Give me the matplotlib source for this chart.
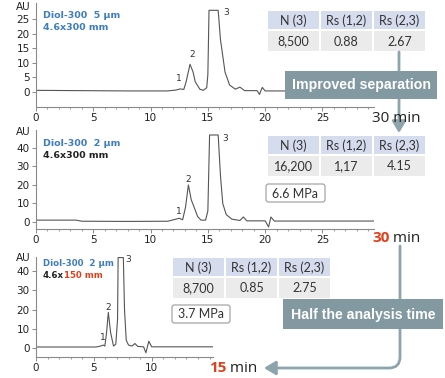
import matplotlib
matplotlib.use("Agg")
import matplotlib.pyplot as plt
from matplotlib.patches import Rectangle, FancyBboxPatch, FancyArrowPatch
from matplotlib.path import Path
from matplotlib.ticker import MultipleLocator

# ---------------- data ----------------
t1 = [0, 4, 8, 11.5, 12.2, 12.6, 12.9, 13.1, 13.44, 13.7, 13.9, 14.3, 14.6, 14.9, 15.0, 15.1, 15.9, 16.1,
      16.5, 16.9, 17.4, 17.8, 18.2, 19.3, 19.5, 19.75, 20.0, 21.8]
y1 = [0.6, 0.5, 0.4, 0.4, 0.7, 1.1, 0.9, 3.5, 9.5, 7.0, 3.5, 1.0, 0.6, 1.5, 6.0, 28, 28, 18,
      6.8, 2.4, 1.0, 1.7, 0.5, 0.5, -0.8, 1.6, 0.4, 0.4]

t2 = [0, 3.5, 4, 8, 11.5, 12.2, 12.5, 12.8, 13.05, 13.3, 13.55, 13.8, 14.1, 14.4, 14.8, 15.0, 15.15, 15.9,
      16.1, 16.3, 16.6, 17.1, 17.8, 18.1, 18.4, 20.0, 20.3, 20.5, 20.8, 29.6]
y2 = [1.0, 1.0, 0.4, 0.3, 0.4, 1.5, 2.0, 1.2, 8, 20, 12, 8, 3, 1, 1, 6, 47, 47,
      25, 10, 4, 1.5, 0.8, 2.7, 0.6, 0.6, -2.7, 2.7, 0.5, 0.5]

t3 = [0, 5.2, 5.6, 5.8, 5.95, 6.1, 6.25, 6.45, 6.7, 6.9, 7.05, 7.1, 7.55, 7.65, 7.8, 8.0, 8.3, 8.55, 8.8,
      9.3, 9.5, 9.75, 10.0, 15.3]
y3 = [0.5, 0.5, 1.0, 1.5, 1.0, 8, 18.5, 8, 1.0, 2, 15, 47, 47, 20, 4, 1.5, 1.0, 2.3, 0.8,
      0.6, -2.5, 3.5, 0.6, 0.6]

peak_names = ["1", "2", "3"]
lab1_t = [12.5, 13.6, 16.6]; lab1_y = [4.8, 13.0, 27.4]
lab2_t = [12.5, 13.3, 16.5]; lab2_y = [5.9, 23.0, 45.0]
lab3_t = [5.8, 6.2, 7.95];   lab3_y = [5.2, 21.0, 46.0]

yticks1 = [0, 5, 10, 15, 20, 25]
yticks2 = [0, 10, 20, 30, 40]
yticks3 = [0, 10, 20, 30, 40]
xticks12 = [0, 5, 10, 15, 20, 25]
xticks3 = [0, 5, 10]

table_headers = ["N (3)", "Rs (1,2)", "Rs (2,3)"]
table_rows = [["8,500", "0.88", "2.67"],
              ["16,200", "1,17", "4.15"],
              ["8,700", "0.85", "2.75"]]
pressures = ["6.6 MPa", "3.7 MPa"]

W, H = 445, 378
fig = plt.figure(figsize=(W / 100, H / 100), dpi=100)

BLUE = "#3d7cc0"
RED = "#e0401c"
DARK = "#222222"
AX_C = "#8a8a8a"
TRACE = "#555555"
SLATE = "#8299a1"
ARROW = "#8ea4ac"

def px_axes(left, top, right, bottom):
    return fig.add_axes([left / W, 1 - bottom / H, (right - left) / W, (bottom - top) / H])

def style(ax, xmax, ylo, yhi, yticks, xticks):
    ax.set_xlim(0, xmax)
    ax.set_ylim(ylo, yhi)
    for s in ("top", "right"):
        ax.spines[s].set_visible(False)
    for s in ("left", "bottom"):
        ax.spines[s].set_color(AX_C)
        ax.spines[s].set_linewidth(0.8)
    ax.set_xticks(xticks)
    ax.set_yticks(yticks)
    ax.xaxis.set_minor_locator(MultipleLocator(1))
    ax.tick_params(axis="both", which="major", length=3, width=0.7, color=AX_C,
                   labelsize=7.5, labelcolor=DARK, pad=1.5)
    ax.tick_params(axis="both", which="minor", length=1.5, width=0.6, color=AX_C)
    ax.patch.set_alpha(0)

ax1 = px_axes(36, 3, 374, 107)
ax1.plot(t1, y1, color=TRACE, lw=0.8)
style(ax1, 29.5, -5.1, 30.5, yticks1, xticks12)

ax2 = px_axes(36, 130, 374, 229)
ax2.plot(t2, y2, color=TRACE, lw=0.8)
style(ax2, 29.5, -3.8, 49.7, yticks2, xticks12)

ax3 = px_axes(36, 257, 213, 357)
ax3.plot(t3, y3, color=TRACE, lw=0.8)
style(ax3, 15.3, -4.7, 47.3, yticks3, xticks3)

for ax, lt, ly in ((ax1, lab1_t, lab1_y), (ax2, lab2_t, lab2_y), (ax3, lab3_t, lab3_y)):
    for n, xx, yy in zip(peak_names, lt, ly):
        ax.text(xx, yy, n, fontsize=6.5, color="#333333", ha="center", va="center")

# overlay in pixel coordinates
ov = fig.add_axes([0, 0, 1, 1], zorder=10)
ov.set_xlim(0, W)
ov.set_ylim(H, 0)
ov.axis("off")
ov.patch.set_alpha(0)

# AU labels
for y in (7, 132, 258):
    ov.text(23, y, "AU", fontsize=7.5, color=DARK, ha="center", va="center")

# column labels
fb = dict(fontsize=6.8, fontweight="bold", ha="left", va="center")
ov.text(43, 16, "Diol-300  5 µm", color=BLUE, **fb)
ov.text(43, 28, "4.6x300 mm", color=BLUE, **fb)
ov.text(43, 143, "Diol-300  2 µm", color=BLUE, **fb)
ov.text(43, 155, "4.6x300 mm", color=DARK, **fb)
fs3 = dict(fontsize=6.2, fontweight="bold", ha="left", va="center")
ov.text(43, 264, "Diol-300  2 µm", color=BLUE, **fs3)
tA = ov.text(43, 275, "4.6x", color=DARK, **fs3)
ov.annotate("150 mm", xy=(1, 0.5), xycoords=tA, color=RED, fontsize=6.2, fontweight="bold",
            ha="left", va="center")

# tables
TF = "Lato"
def table(x0, y0, row, colw=53, hh=20, dh=22):
    for i, (h, v) in enumerate(zip(table_headers, row)):
        x = x0 + i * colw
        ov.add_patch(Rectangle((x + 0.6, y0 + 0.6), colw - 1.2, hh - 1.2, fc="#d5dcee", ec="none"))
        ov.add_patch(Rectangle((x + 0.6, y0 + hh + 0.6), colw - 1.2, dh - 1.2, fc="#ebebeb", ec="none"))
        ov.text(x + colw / 2, y0 + hh / 2 + 0.5, h, fontsize=9, family=TF, color="#333333",
                ha="center", va="center")
        ov.text(x + colw / 2, y0 + hh + dh / 2 + 0.5, v, fontsize=9, family=TF, color="#333333",
                ha="center", va="center")

table(267, 10, table_rows[0])
table(267, 135, table_rows[1])
table(172, 257, table_rows[2])

def mpa(x0, y0, w, h, s):
    ov.add_patch(FancyBboxPatch((x0, y0), w, h, boxstyle="round,pad=0,rounding_size=2.5",
                                fc="white", ec="#9a9a9a", lw=0.8))
    ov.text(x0 + w / 2, y0 + h / 2 + 0.5, s, fontsize=9, family=TF, color="#333333",
            ha="center", va="center")

mpa(266, 184, 59, 18, pressures[0])
mpa(172, 305, 58, 18, pressures[1])

# arrows
ov.add_patch(FancyArrowPatch((399, 52), (399, 133), arrowstyle="-|>,head_length=0.5,head_width=0.3",
                             mutation_scale=14, color=ARROW, lw=2, shrinkA=0, shrinkB=0, zorder=1))
verts = [(400, 246), (400, 357), (400, 368), (389, 368), (264, 368)]
codes = [Path.MOVETO, Path.LINETO, Path.CURVE3, Path.CURVE3, Path.LINETO]
ov.add_patch(FancyArrowPatch(path=Path(verts, codes), arrowstyle="-|>,head_length=0.5,head_width=0.3",
                             mutation_scale=14, color=ARROW, lw=2, shrinkA=0, shrinkB=0, zorder=1))

# boxes
ov.add_patch(Rectangle((285, 71), 152, 28, fc=SLATE, ec="none", zorder=2))
ov.text(361, 85.5, "Improved separation", fontsize=10.2, color="white", ha="center", va="center",
        family="Liberation Sans", fontweight="bold", zorder=3)
ov.add_patch(Rectangle((283, 299), 160, 30, fc=SLATE, ec="none", zorder=2))
ov.text(363, 314.5, "Half the analysis time", fontsize=10.2, color="white", ha="center", va="center",
        family="Liberation Sans", fontweight="bold", zorder=3)

# time labels
MF = "Open Sans"
ov.text(372, 118, "30 min", fontsize=11, family=MF, color=DARK, ha="left", va="center", zorder=4)
a = ov.text(372, 238, "30", fontsize=11, family=MF, fontweight="bold", color=RED, ha="left",
            va="center", zorder=4)
ov.annotate(" min", xy=(1, 0.5), xycoords=a, fontsize=11, family=MF, color=DARK, ha="left",
            va="center", zorder=4)
b = ov.text(209, 368, "15", fontsize=11, family=MF, fontweight="bold", color=RED, ha="left",
            va="center", zorder=4)
ov.annotate(" min", xy=(1, 0.5), xycoords=b, fontsize=11, family=MF, color=DARK, ha="left",
            va="center", zorder=4)

fig.savefig("out.png", dpi=100)
